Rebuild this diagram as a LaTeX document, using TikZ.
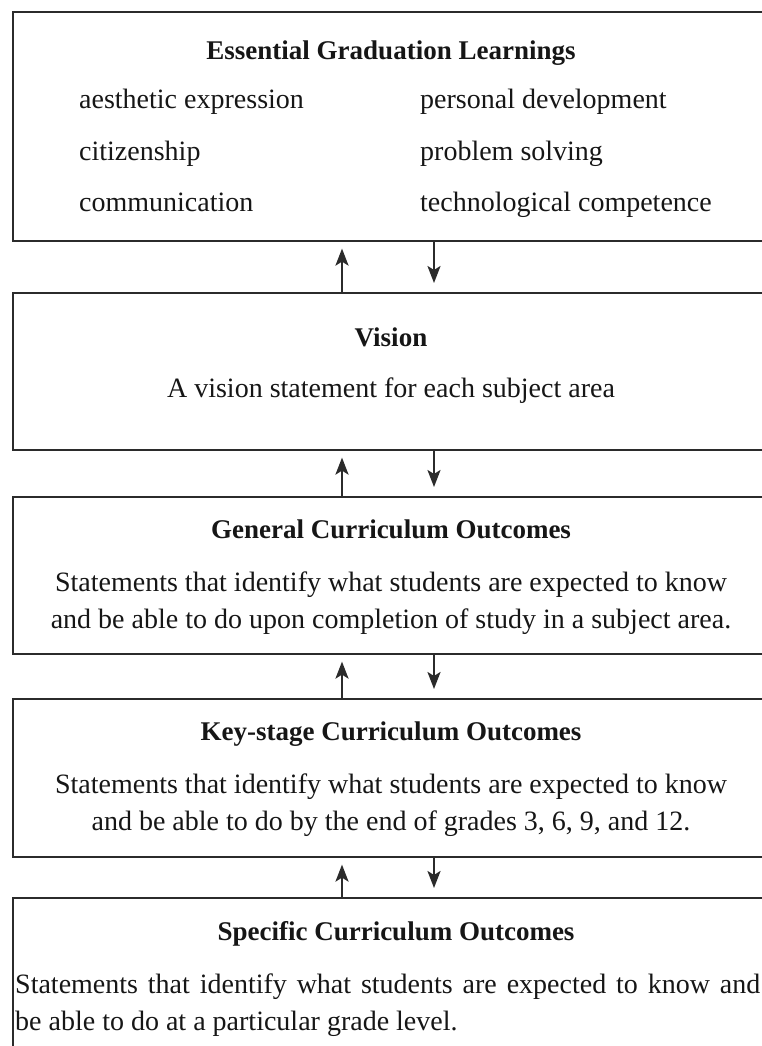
\documentclass[tikz,border=0pt]{standalone}
\usepackage{fontspec}
\setmainfont{Liberation Serif}
\usetikzlibrary{arrows.meta,calc}
\definecolor{linec}{HTML}{2B2B2B}
\definecolor{textc}{HTML}{161616}
\begin{document}
\begin{tikzpicture}[x=1pt,y=-1pt,
  box/.style={draw=linec, line width=1.6pt, minimum width=760pt, anchor=north west, inner sep=0pt},
  head/.style={font=\fontsize{27}{32}\selectfont\bfseries, text=textc, anchor=base, inner sep=0pt},
  body/.style={font=\fontsize{28}{37}\selectfont, text=textc, anchor=base, inner sep=0pt},
  bodyl/.style={body, anchor=base west},
  arr/.style={draw=linec, line width=2.4pt, -{Stealth[length=17pt,width=13pt,inset=4pt]}},
]
\useasboundingbox (0,0) rectangle (762,1046);
\clip (0,0) rectangle (762,1046);
\fill[white] (0,0) rectangle (762,1046);

% boxes
\node[box, minimum height=229pt] (b1) at (12,11) {};
\node[box, minimum height=157pt] (b2) at (12,292) {};
\node[box, minimum height=157pt] (b3) at (12,496) {};
\node[box, minimum height=158pt] (b4) at (12,698) {};
\node[box, minimum height=200pt] (b5) at (12,897) {};

% box 1
\node[head] (h1) at (391,60) {Essential Graduation Learnings};
\node[bodyl] (l11) at (79,109) {aesthetic expression};
\node[bodyl] (l12) at (79,160) {citizenship};
\node[bodyl] (l13) at (79,211) {communication};
\node[bodyl] (r11) at (420,109) {personal development};
\node[bodyl] (r12) at (420,160) {problem solving};
\node[bodyl] (r13) at (420,211) {technological competence};

% box 2
\node[head] (h2) at (391,346) {Vision};
\node[body] (t21) at (391,397) {A vision statement for each subject area};

% box 3
\node[head] (h3) at (391,538) {General Curriculum Outcomes};
\node[body] (t31) at (391,591) {Statements that identify what students are expected to know};
\node[body] (t32) at (391,628) {and be able to do upon completion of study in a subject area.};

% box 4
\node[head] (h4) at (391,740) {Key-stage Curriculum Outcomes};
\node[body] (t41) at (391,793) {Statements that identify what students are expected to know};
\node[body] (t42) at (391,830) {and be able to do by the end of grades 3, 6, 9, and 12.};

% box 5
\node[head] (h5) at (396,940) {Specific Curriculum Outcomes};
\node[bodyl] (t51) at (15,993) {\makebox[745pt][s]{Statements that identify what students are expected to know and}};
\node[bodyl] (t52) at (15,1030) {be able to do at a particular grade level.};

% arrows
\coordinate (ux) at (342,0);
\coordinate (dx) at (434,0);
\foreach \u/\l in {b1/b2, b2/b3, b3/b4, b4/b5}{
  \draw[arr] (\l.north -| ux) -- ($(\u.south -| ux)+(0,7)$);
  \draw[arr] (\u.south -| dx) -- ($(\l.north -| dx)+(0,-9)$);
}
\end{tikzpicture}
\end{document}
